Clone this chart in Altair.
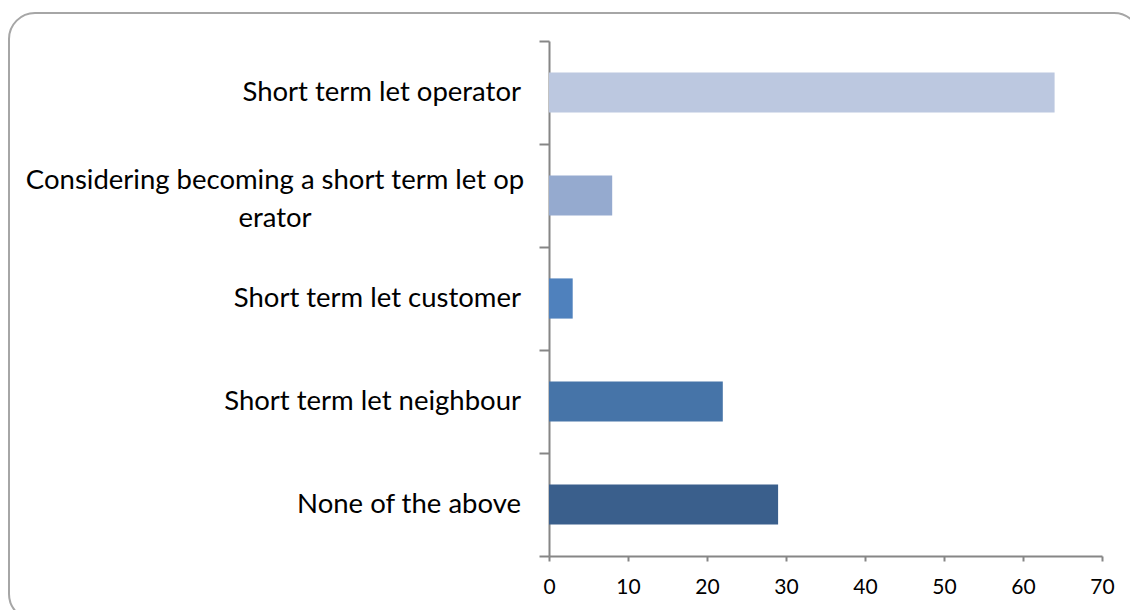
import altair as alt
import pandas as pd

categories = [
    "Short term let operator",
    "Considering becoming a short term let operator",
    "Short term let customer",
    "Short term let neighbour",
    "None of the above",
]
values = [64, 8, 3, 22, 29]
display_labels = [
    "Short term let operator",
    "Considering becoming a short term let op\nerator",
    "Short term let customer",
    "Short term let neighbour",
    "None of the above",
]
x_ticks = [0, 10, 20, 30, 40, 50, 60, 70]
colors = ["#BCC8E0", "#95AACF", "#4F81BD", "#4674A8", "#3A5F8C"]

df = pd.DataFrame({"category": categories, "value": values, "label": display_labels})
wrapped = [c for c, l in zip(categories, display_labels) if "\n" in l]

FONT = "Lato"
AXIS_COLOR = "#868686"

y_enc = alt.Y(
    "category:N",
    sort=categories,
    scale=alt.Scale(paddingInner=0, paddingOuter=0),
    axis=alt.Axis(
        title=None, labels=False, tickBand="extent", tickSize=10, tickWidth=2,
        domainWidth=2, domainColor=AXIS_COLOR, tickColor=AXIS_COLOR, grid=False,
    ),
)

base = alt.Chart(df)

bars = base.mark_bar(height=alt.RelativeBandSize(band=0.39)).encode(
    x=alt.X(
        "value:Q",
        scale=alt.Scale(domain=[0, 70], nice=False),
        axis=alt.Axis(
            title=None, values=x_ticks, tickSize=5, tickWidth=2, domainWidth=2,
            domainColor=AXIS_COLOR, tickColor=AXIS_COLOR, grid=False,
            labelFont=FONT, labelFontSize=21, labelColor="#000000", labelPadding=15,
            labelFlush=False,
        ),
    ),
    y=y_enc,
    color=alt.Color("category:N", scale=alt.Scale(domain=categories, range=colors), legend=None),
)

labels_single = base.transform_filter(
    alt.FieldOneOfPredicate(field="category", oneOf=[c for c in categories if c not in wrapped])
).mark_text(align="right", baseline="middle", font=FONT, fontSize=27.5, color="#000000").encode(
    x=alt.value(-28), y=alt.Y("category:N", sort=categories), text="label:N"
)

labels_wrapped = base.transform_filter(
    alt.FieldOneOfPredicate(field="category", oneOf=wrapped)
).mark_text(align="center", baseline="middle", font=FONT, fontSize=27.5, color="#000000",
            lineBreak="\n", lineHeight=38, dy=-15).encode(
    x=alt.value(-274), y=alt.Y("category:N", sort=categories), text="label:N"
)

border = alt.Chart(pd.DataFrame({"a": [0]})).mark_rect(
    fill="#ffffff", fillOpacity=0, stroke="#a6a6a6", strokeWidth=2, cornerRadius=26
).encode(
    x=alt.value(-540), x2=alt.value(591), y=alt.value(-28), y2=alt.value(579)
)

chart = alt.layer(border, bars, labels_single, labels_wrapped).properties(
    width=553, height=515,
    autosize=alt.AutoSizeParams(type="none"),
    padding={"left": 549, "top": 41, "right": 28, "bottom": 54},
    background="#ffffff",
).configure_view(stroke=None)

chart.save("out.html", embed_options={"renderer": "svg", "actions": False})
